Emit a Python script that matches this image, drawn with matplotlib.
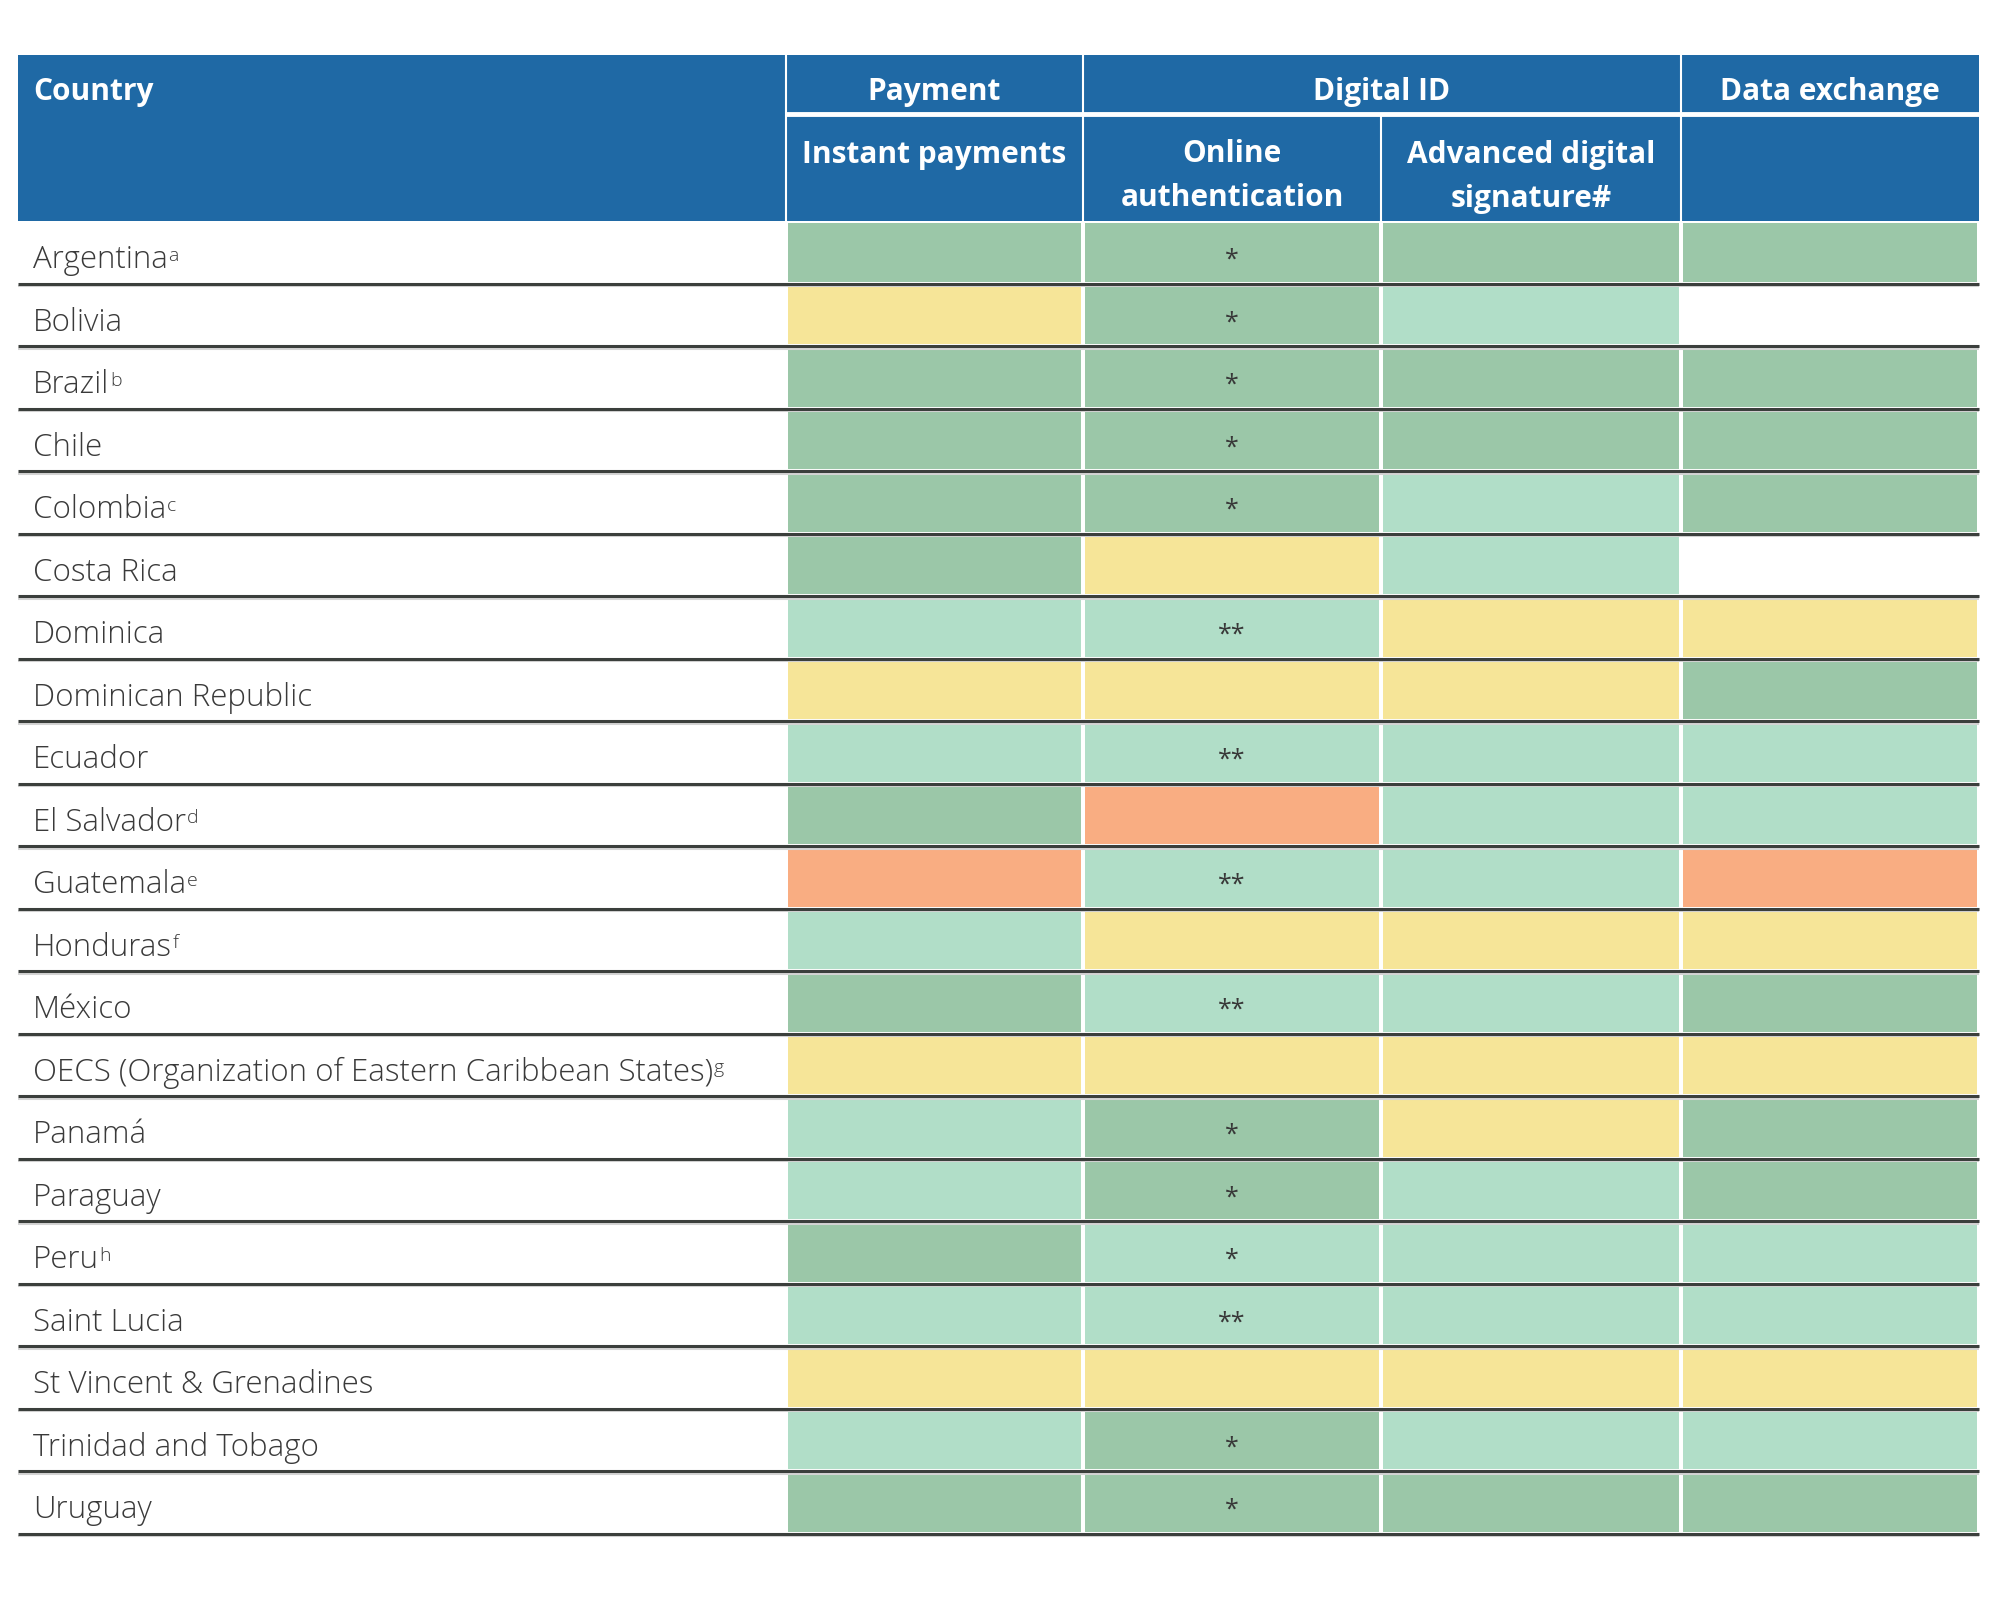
import matplotlib
matplotlib.use("Agg")
import matplotlib.pyplot as plt
import numpy as np
from matplotlib.colors import ListedColormap

plt.rcParams['font.family'] = ['Open Sans', 'DejaVu Sans']

# ---- data ----
countries = ['Argentina', 'Bolivia', 'Brazil', 'Chile', 'Colombia', 'Costa Rica',
             'Dominica', 'Dominican Republic', 'Ecuador', 'El Salvador', 'Guatemala',
             'Honduras', 'México', 'OECS (Organization of Eastern Caribbean States)',
             'Panamá', 'Paraguay', 'Peru', 'Saint Lucia', 'St Vincent & Grenadines',
             'Trinidad and Tobago', 'Uruguay']
notes = ['a', '', 'b', '', 'c', '', '', '', '', 'd', 'e', 'f', '', 'g',
         '', '', 'h', '', '', '', '']
groups = ['Payment', 'Digital ID', 'Data exchange']
subheads = ['Instant payments', 'Online\nauthentication', 'Advanced digital\nsignature#', '']

# status codes: 0 none, 1 dark green, 2 light green, 3 yellow, 4 orange
instant = [1, 3, 1, 1, 1, 1, 2, 3, 2, 1, 4, 2, 1, 3, 2, 2, 1, 2, 3, 2, 1]
online  = [1, 1, 1, 1, 1, 3, 2, 3, 2, 4, 2, 3, 2, 3, 1, 1, 2, 2, 3, 1, 1]
adv_sig = [1, 2, 1, 1, 2, 2, 3, 3, 2, 2, 2, 3, 2, 3, 3, 2, 2, 2, 3, 2, 1]
data_ex = [1, 0, 1, 1, 1, 0, 3, 1, 2, 2, 4, 3, 1, 3, 1, 1, 2, 2, 3, 2, 1]
online_marks = ['*', '*', '*', '*', '*', '', '**', '', '**', '', '**', '', '**', '',
                '*', '*', '*', '**', '', '*', '*']

status_colors = ['#ffffff', '#9bc7a8', '#b1dec8', '#f6e598', '#f9ad82']
blue = '#1f69a5'
text_col = '#3a3a3a'

# ---- layout (pixels) ----
W, H = 2000, 1606
col_edges = [18, 786, 1083, 1381, 1681, 1979]
head_top, head_split, head_bot = 56, 115, 222
row_h = 62.5
n = len(countries)
row_edges = head_bot + row_h * np.arange(n + 1)

fig = plt.figure(figsize=(W / 100, H / 100), dpi=100, facecolor='white')
ax = fig.add_axes([0, 0, 1, 1])
ax.set_xlim(0, W)
ax.set_ylim(H, 0)
ax.axis('off')

# coloured cells
grid = np.array([instant, online, adv_sig, data_ex]).T
ax.pcolormesh(col_edges[1:], row_edges, grid, cmap=ListedColormap(status_colors),
              vmin=-0.5, vmax=4.5, edgecolors='white', linewidth=1.5)

# row rules
ax.hlines(row_edges[1:] + 2.5, col_edges[0], col_edges[-1], color='#d4d4d4', lw=1.5)
ax.hlines(row_edges[1:], col_edges[0], col_edges[-1], color='#3b3f3c', lw=2.2)

# header block
ax.add_patch(plt.Rectangle((col_edges[0], head_top), col_edges[-1] - col_edges[0],
                           head_bot - head_top, color=blue, lw=0))
ax.hlines(head_split, col_edges[1], col_edges[-1], color='white', lw=3.5)
for x in [col_edges[1], col_edges[2], col_edges[4]]:
    ax.vlines(x, head_top, head_bot, color='white', lw=1.5)
ax.vlines(col_edges[3], head_split, head_bot, color='white', lw=1.5)

hfont = dict(color='white', fontsize=21.5, fontweight='bold')
ax.text(33, 92, 'Country', ha='left', va='center', **hfont)
group_spans = [(col_edges[1], col_edges[2]), (col_edges[2], col_edges[4]),
               (col_edges[4], col_edges[5])]
for g, (a, b) in zip(groups, group_spans):
    ax.text((a + b) / 2, 92, g, ha='center', va='center', **hfont)
for i, s in enumerate(subheads):
    cx = (col_edges[i + 1] + col_edges[i + 2]) / 2
    for j, line in enumerate(s.split('\n')):
        if line:
            ax.text(cx, 154.5 + 44 * j, line, ha='center', va='center', **hfont)

# row labels and marks
centers = (row_edges[:-1] + row_edges[1:]) / 2
online_x = (col_edges[2] + col_edges[3]) / 2
for c, nt, m, y in zip(countries, notes, online_marks, centers):
    t = ax.text(33, y + 7, c, ha='left', va='center', fontsize=22.5,
                fontweight='light', color=text_col)
    if nt:
        ax.annotate(nt, xy=(1, 0.92), xycoords=t, xytext=(0.5, 0), textcoords='offset points',
                    ha='left', va='top', fontsize=14, fontweight='light', color=text_col)
    if m:
        ax.text(online_x, y + 7, m, ha='center', va='center', fontsize=18, color='#383838')

fig.savefig('out.png', dpi=100, facecolor='white')
